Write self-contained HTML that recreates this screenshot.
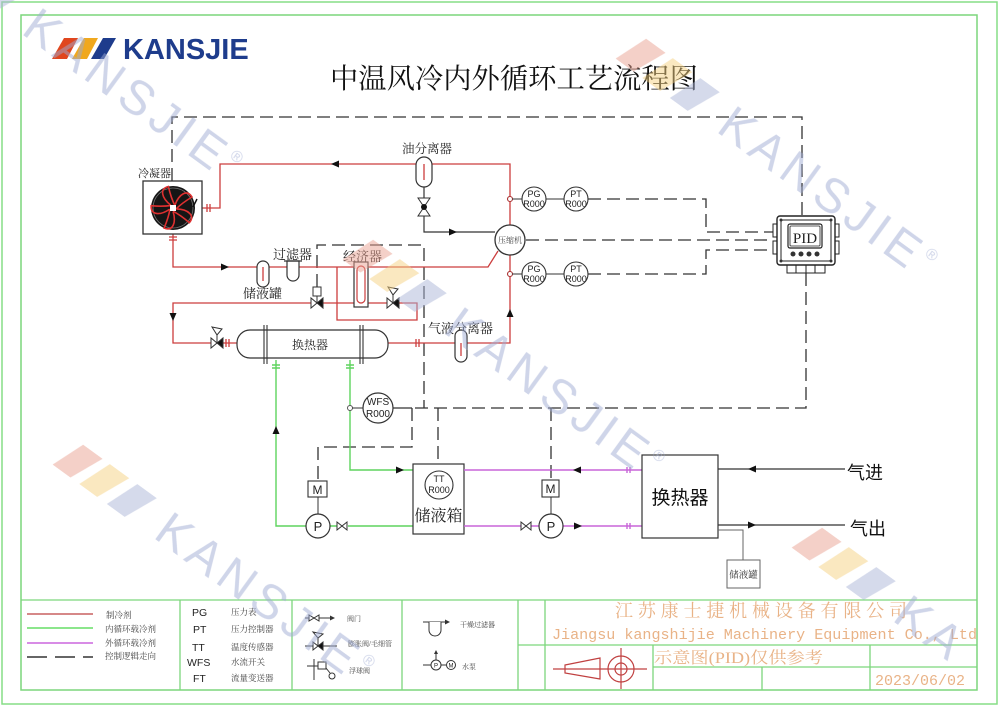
<!DOCTYPE html>
<html><head><meta charset="utf-8">
<style>
html,body{margin:0;padding:0;background:#fff;width:1000px;height:706px;overflow:hidden;}
svg{display:block;}
.sf{font-family:"Liberation Serif","Noto Serif CJK SC",serif;}
.ss{font-family:"Liberation Sans","Noto Sans CJK SC",sans-serif;}
.mn{font-family:"Liberation Mono","Noto Sans CJK SC",monospace;}
</style></head><body>
<svg width="1000" height="706" viewBox="0 0 1000 706" xmlns="http://www.w3.org/2000/svg" overflow="hidden">
<rect width="1000" height="706" fill="#fff"/>

<!-- Frame -->
<rect x="2" y="2" width="995" height="702" fill="none" stroke="#86dd86" stroke-width="1.5"/>
<rect x="21" y="15" width="956" height="675" fill="none" stroke="#7cd67c" stroke-width="1.5"/>
<g stroke="#7cd67c" stroke-width="1.3" fill="none">
 <line x1="21" y1="600" x2="977" y2="600"/>
 <line x1="180" y1="600" x2="180" y2="690"/>
 <line x1="292" y1="600" x2="292" y2="690"/>
 <line x1="402" y1="600" x2="402" y2="690"/>
 <line x1="518" y1="600" x2="518" y2="690"/>
 <line x1="545" y1="600" x2="545" y2="690"/>
 <line x1="518" y1="645" x2="977" y2="645"/>
 <line x1="653" y1="667" x2="977" y2="667"/>
 <line x1="653" y1="645" x2="653" y2="690"/>
 <line x1="762" y1="667" x2="762" y2="690"/>
 <line x1="870" y1="645" x2="870" y2="690"/>
</g>

<!-- Logo -->
<polygon points="64,38 78,38 67,59 52,59" fill="#e0461e"/>
<polygon points="84,38 98,38 87,59 72,59" fill="#f0a81e"/>
<polygon points="103,38 116,38 104,59 91,59" fill="#1e3c8c"/>
<text x="123" y="59" class="ss" font-size="29" font-weight="bold" fill="#1e3c8c">KANSJIE</text>

<!-- Title -->
<text x="330" y="88" class="sf" font-size="28" fill="#111" textLength="368" lengthAdjust="spacingAndGlyphs">中温风冷内外循环工艺流程图</text>

<!-- Dashed control lines -->
<g fill="none" stroke="#333" stroke-width="1.3" stroke-dasharray="13 6">
 <path d="M172 181V117H802V216"/>
 <path d="M588 199H706V232H773"/>
 <path d="M526 240H773"/>
 <path d="M588 274H706V250H773"/>
 <path d="M806 273V408H412"/>
 <path d="M317 287V245H424V408"/>
 <path d="M412 408V447H318V481"/>
 <path d="M438 408V471"/>
 <path d="M551 408V480"/>
</g>
<path d="M393 408H412" stroke="#333" stroke-width="1.2"/>

<!-- Red refrigerant lines -->
<g fill="none" stroke="#cc3d3d" stroke-width="1.3">
 <path d="M202 208H220V164H510V343H388"/>
 <path d="M173 234V267H488L498 251"/>
 <path d="M337 267V320H417V303H368"/>
 <path d="M354 303H173V343H237"/>
 <path d="M207 204v8M210 204v8M226 339v8M229 339v8M416 339v8M419 339v8M169 237h8M169 240h8"/>
</g>

<!-- Oil separator line -->
<path d="M424 187V232H495" fill="none" stroke="#333" stroke-width="1.2"/>
<polygon points="418,198 430,198 424,207" fill="#fff" stroke="#333"/>
<polygon points="418,216 430,216 424,207" fill="#fff" stroke="#333"/>
<circle cx="424" cy="207" r="3" fill="#111"/>

<!-- Condenser -->
<text x="138" y="177" class="sf" font-size="11" fill="#222">冷凝器</text>
<rect x="143" y="181" width="59" height="53" fill="#fff" stroke="#333" stroke-width="1.3"/>
<circle cx="173" cy="208" r="22" fill="#151515"/>
<circle cx="173" cy="208" r="20" fill="none" stroke="#777" stroke-width="0.8"/>
<g transform="translate(173,208)" stroke="#dd3030" stroke-width="1.6" fill="none">
 <path d="M2,-3 C6,-14 14,-19 19,-11 C14,-8 8,-4 3,1"/>
 <path transform="rotate(72)" d="M2,-3 C6,-14 14,-19 19,-11 C14,-8 8,-4 3,1"/>
 <path transform="rotate(144)" d="M2,-3 C6,-14 14,-19 19,-11 C14,-8 8,-4 3,1"/>
 <path transform="rotate(216)" d="M2,-3 C6,-14 14,-19 19,-11 C14,-8 8,-4 3,1"/>
 <path transform="rotate(288)" d="M2,-3 C6,-14 14,-19 19,-11 C14,-8 8,-4 3,1"/>
</g>
<rect x="170" y="205" width="6" height="6" fill="#fff"/>
<line x1="197" y1="199" x2="193" y2="207" stroke="#111" stroke-width="1.5"/>

<!-- Oil separator -->
<text x="402" y="153" class="sf" font-size="12.5" fill="#222">油分离器</text>
<rect x="416" y="157" width="16" height="30" rx="8" fill="#fff" stroke="#333" stroke-width="1.2"/>
<path d="M424 164V180" stroke="#cc3d3d" stroke-width="1.3"/>

<!-- Receiver / filter / economizer -->
<text x="273" y="259" class="sf" font-size="13" fill="#222">过滤器</text>
<text x="343" y="261" class="sf" font-size="13" fill="#222">经济器</text>
<text x="243" y="298" class="sf" font-size="13" fill="#222">储液罐</text>
<rect x="257" y="261" width="12" height="26" rx="6" fill="#fff" stroke="#333" stroke-width="1.2"/>
<path d="M263 267V281" stroke="#cc3d3d" stroke-width="1.3"/>
<path d="M287 261V275A6 6 0 0 0 299 275V261Z" fill="#fff" stroke="#333" stroke-width="1.2"/>
<path d="M284 261H302" stroke="#333" stroke-width="1.2"/>
<rect x="354" y="262" width="14" height="45" fill="#fff" stroke="#333" stroke-width="1.2"/>
<rect x="357" y="266" width="8" height="37" rx="4" fill="none" stroke="#cc3d3d" stroke-width="1.2"/>

<!-- Solenoid valve -->
<rect x="313" y="287" width="8" height="9" fill="#fff" stroke="#333"/>
<path d="M317 296V303" stroke="#333"/>
<polygon points="311,298 311,308 317,303" fill="#fff" stroke="#333"/>
<polygon points="323,298 323,308 317,303" fill="#111" stroke="#333"/>
<!-- Expansion valve econ -->
<polygon points="387,298 387,308 393,303" fill="#fff" stroke="#333"/>
<polygon points="399,298 399,308 393,303" fill="#111" stroke="#333"/>
<path d="M393 303V295M388 287L398 289L393 295Z" fill="#fff" stroke="#333"/>
<!-- Expansion valve HX -->
<polygon points="211,338 211,348 217,343" fill="#fff" stroke="#333"/>
<polygon points="223,338 223,348 217,343" fill="#111" stroke="#333"/>
<path d="M217 343V335M212 327L222 329L217 335Z" fill="#fff" stroke="#333"/>

<!-- Heat exchanger 1 -->
<rect x="237" y="330" width="151" height="28" rx="13" fill="#fff" stroke="#333" stroke-width="1.2"/>
<g stroke="#333" stroke-width="1.1">
 <line x1="264" y1="325" x2="264" y2="364"/><line x1="267" y1="325" x2="267" y2="364"/>
 <line x1="360" y1="325" x2="360" y2="364"/><line x1="363" y1="325" x2="363" y2="364"/>
</g>
<text x="310" y="349" class="sf" font-size="12" fill="#222" text-anchor="middle">换热器</text>

<!-- Gas-liquid separator -->
<text x="428" y="333" class="sf" font-size="13" fill="#222">气液分离器</text>
<rect x="455" y="330" width="12" height="32" rx="6" fill="#fff" stroke="#333" stroke-width="1.2"/>
<path d="M461 343V356" stroke="#cc3d3d" stroke-width="1.3"/>

<!-- Compressor -->
<circle cx="510" cy="240" r="15" fill="#fff" stroke="#333" stroke-width="1.3"/>
<text x="510" y="243" class="sf" font-size="8" fill="#444" text-anchor="middle">压缩机</text>

<!-- PG / PT -->
<g stroke="#333" stroke-width="1.1" fill="#fff">
 <circle cx="510" cy="199" r="2.5" stroke="#a33"/>
 <circle cx="510" cy="274" r="2.5" stroke="#a33"/>
 <path d="M512 199H522M546 199H564M512 274H522M546 274H564" fill="none"/>
 <circle cx="534" cy="199" r="12"/><circle cx="576" cy="199" r="12"/>
 <circle cx="534" cy="274" r="12"/><circle cx="576" cy="274" r="12"/>
</g>
<g class="ss" font-size="9" fill="#222" text-anchor="middle">
 <text x="534" y="197">PG</text><text x="534" y="207">R000</text>
 <text x="576" y="197">PT</text><text x="576" y="207">R000</text>
 <text x="534" y="272">PG</text><text x="534" y="282">R000</text>
 <text x="576" y="272">PT</text><text x="576" y="282">R000</text>
</g>

<!-- PID controller -->
<g stroke="#222" fill="#fff">
 <rect x="773" y="224" width="5" height="13" stroke-width="1"/>
 <rect x="773" y="241" width="5" height="13" stroke-width="1"/>
 <rect x="834" y="224" width="5" height="13" stroke-width="1"/>
 <rect x="834" y="241" width="5" height="13" stroke-width="1"/>
 <rect x="787" y="265" width="38" height="8" stroke-width="1"/>
 <path d="M796 265V273M806 265V273M815 265V273" fill="none"/>
 <rect x="777" y="216" width="58" height="49" rx="3" stroke-width="1.4"/>
 <rect x="781" y="220" width="50" height="41" rx="2" stroke-width="1"/>
 <rect x="788" y="224" width="34" height="24" rx="2" stroke-width="1.2"/>
 <rect x="790" y="226" width="30" height="20" rx="1" stroke-width="0.8"/>
</g>
<text x="805" y="243" class="sf" font-size="15" fill="#222" text-anchor="middle">PID</text>
<g fill="#333">
 <circle cx="793" cy="254" r="2.5"/><circle cx="801" cy="254" r="2.5"/><circle cx="809" cy="254" r="2.5"/><circle cx="817" cy="254" r="2.5"/>
 <circle cx="781" cy="220" r="1.5"/><circle cx="831" cy="220" r="1.5"/><circle cx="781" cy="261" r="1.5"/><circle cx="831" cy="261" r="1.5"/>
</g>

<!-- Green loop -->
<g stroke="#5ed45e" stroke-width="1.4" fill="none">
 <path d="M276 360V526H306"/>
 <path d="M350 360V470H413"/>
 <path d="M330 526H337M348 526H413"/>
 <path d="M272 365h8M272 368h8M346 365h8M346 368h8"/>
</g>
<polygon points="337,522 337,530 342,526" fill="#fff" stroke="#333"/>
<polygon points="347,522 347,530 342,526" fill="#fff" stroke="#333"/>

<!-- WFS -->
<circle cx="350" cy="408" r="2.5" fill="#fff" stroke="#555"/>
<path d="M352 408H363" stroke="#333"/>
<circle cx="378" cy="408" r="15" fill="#fff" stroke="#333" stroke-width="1.2"/>
<text x="378" y="405" class="ss" font-size="10" fill="#222" text-anchor="middle">WFS</text>
<text x="378" y="417" class="ss" font-size="10" fill="#222" text-anchor="middle">R000</text>

<!-- Pump 1 -->
<rect x="308" y="481" width="19" height="16" fill="#fff" stroke="#333" stroke-width="1.1"/>
<text x="317.5" y="494" class="ss" font-size="12" fill="#222" text-anchor="middle">M</text>
<path d="M318 497V514" stroke="#333"/>
<circle cx="318" cy="526" r="12" fill="#fff" stroke="#333" stroke-width="1.2"/>
<text x="318" y="531" class="ss" font-size="13" fill="#222" text-anchor="middle">P</text>

<!-- Tank -->
<rect x="413" y="464" width="51" height="70" fill="#fff" stroke="#333" stroke-width="1.2"/>
<circle cx="439" cy="485" r="14" fill="#fff" stroke="#333" stroke-width="1.1"/>
<text x="439" y="482" class="ss" font-size="9" fill="#222" text-anchor="middle">TT</text>
<text x="439" y="493" class="ss" font-size="9" fill="#222" text-anchor="middle">R000</text>
<text x="438.5" y="521" class="sf" font-size="16" fill="#222" text-anchor="middle">储液箱</text>

<!-- Magenta loop -->
<g stroke="#c865d8" stroke-width="1.4" fill="none">
 <path d="M464 470H642"/>
 <path d="M464 526H521M531 526H539M563 526H642"/>
 <path d="M627 467v6M630 467v6M627 523v6M630 523v6"/>
</g>
<polygon points="521,522 521,530 526,526" fill="#fff" stroke="#333"/>
<polygon points="531,522 531,530 526,526" fill="#fff" stroke="#333"/>

<!-- Pump 2 -->
<rect x="542" y="480" width="17" height="17" fill="#fff" stroke="#333" stroke-width="1.1"/>
<text x="550.5" y="493" class="ss" font-size="12" fill="#222" text-anchor="middle">M</text>
<path d="M551 497V514" stroke="#333"/>
<circle cx="551" cy="526" r="12" fill="#fff" stroke="#333" stroke-width="1.2"/>
<text x="551" y="531" class="ss" font-size="13" fill="#222" text-anchor="middle">P</text>

<!-- Heat exchanger 2 -->
<rect x="642" y="455" width="76" height="83" fill="#fff" stroke="#333" stroke-width="1.2"/>
<text x="680" y="504" class="ss" font-size="19" fill="#111" text-anchor="middle">换热器</text>
<g stroke="#333" stroke-width="1.2" fill="none">
 <path d="M718 469H845"/>
 <path d="M718 525H845"/>
</g>
<path d="M718 530H743V560" stroke="#666" stroke-width="1" fill="none"/>
<rect x="727" y="560" width="33" height="28" fill="#fff" stroke="#666" stroke-width="1"/>
<text x="743.5" y="578" class="sf" font-size="9.5" fill="#333" text-anchor="middle">储液罐</text>
<text x="847" y="479" class="ss" font-size="18" fill="#111">气进</text>
<text x="850" y="535" class="ss" font-size="18" fill="#111">气出</text>

<!-- Arrowheads -->
<g fill="#111">
 <polygon points="339,160.5 331,164 339,167.5"/>
 <polygon points="221,263.5 229,267 221,270.5"/>
 <polygon points="169.5,313 173,321 176.5,313"/>
 <polygon points="506.5,317 510,309 513.5,317"/>
 <polygon points="449,228.5 457,232 449,235.5"/>
 <polygon points="272.5,434 276,426 279.5,434"/>
 <polygon points="396,466.5 404,470 396,473.5"/>
 <polygon points="581,466.5 573,470 581,473.5"/>
 <polygon points="574,522.5 582,526 574,529.5"/>
 <polygon points="756,465.5 748,469 756,472.5"/>
 <polygon points="748,521.5 756,525 748,528.5"/>
</g>

<!-- Legend col 1 -->
<line x1="27" y1="614" x2="93" y2="614" stroke="#c86060" stroke-width="1.6"/>
<line x1="27" y1="628" x2="93" y2="628" stroke="#66dd66" stroke-width="1.6"/>
<line x1="27" y1="643" x2="93" y2="643" stroke="#cc66dd" stroke-width="1.6"/>
<line x1="27" y1="657" x2="93" y2="657" stroke="#333" stroke-width="1.6" stroke-dasharray="20 8"/>
<g class="sf" font-size="8.5" fill="#444">
 <text x="106" y="618">制冷剂</text>
 <text x="105" y="632">内循环载冷剂</text>
 <text x="105" y="646">外循环载冷剂</text>
 <text x="105" y="659">控制逻辑走向</text>
</g>
<!-- Legend col 2 -->
<g class="ss" font-size="10.5" fill="#222">
 <text x="192" y="616">PG</text>
 <text x="193" y="633">PT</text>
 <text x="192" y="651">TT</text>
 <text x="187" y="666">WFS</text>
 <text x="193" y="682">FT</text>
</g>
<g class="sf" font-size="8.5" fill="#444">
 <text x="231" y="615">压力表</text>
 <text x="231" y="632">压力控制器</text>
 <text x="231" y="650">温度传感器</text>
 <text x="231" y="665">水流开关</text>
 <text x="231" y="681">流量变送器</text>
</g>
<!-- Legend col 3 -->
<g stroke="#333" stroke-width="1" fill="none">
 <path d="M305 618H332"/>
 <path d="M309 615V621L314 618ZM319 615V621L314 618Z" fill="#fff"/>
 <path d="M305 646H337"/>
 <path d="M313 642V650L318 646Z" fill="#fff"/>
 <path d="M323 642V650L318 646Z" fill="#111"/>
 <path d="M318 646V638M313 632L323 634L318 638Z" fill="#fff"/>
 <path d="M307 666H318M314 659V680"/>
 <rect x="318" y="662" width="8" height="7" fill="#fff"/>
 <path d="M326 668L330 673"/>
 <circle cx="332" cy="676" r="3" fill="#fff"/>
</g>
<polygon points="330,615.5 335,618 330,620.5" fill="#333"/>
<g class="sf" font-size="7" fill="#444">
 <text x="347" y="621">阀门</text>
 <text x="348" y="646">膨胀阀/毛细管</text>
 <text x="349" y="673">浮球阀</text>
</g>
<!-- Legend col 4 -->
<g stroke="#333" stroke-width="1" fill="none">
 <path d="M423 622H447"/>
 <path d="M429 622V630A6 6 0 0 0 441 630V622" fill="#fff"/>
 <path d="M423 665H431M441 665H446M436 660V652"/>
 <circle cx="436" cy="665" r="5" fill="#fff"/>
 <circle cx="451" cy="665" r="4.5" fill="#fff"/>
</g>
<polygon points="445,619.5 450,622 445,624.5" fill="#333"/>
<polygon points="434,654 436,650 438,654" fill="#333"/>
<text x="436" y="667.5" class="ss" font-size="6" fill="#222" text-anchor="middle">P</text>
<text x="451" y="667.5" class="ss" font-size="6" fill="#222" text-anchor="middle">M</text>
<g class="sf" font-size="7" fill="#444">
 <text x="460" y="627">干燥过滤器</text>
 <text x="462" y="669">水泵</text>
</g>

<!-- Title block -->
<text x="615" y="617" class="sf" font-size="18" fill="#e9b387" textLength="292" lengthAdjust="spacing">江苏康士捷机械设备有限公司</text>
<text x="552" y="639" class="mn" font-size="14.7" fill="#e9b387" textLength="425" lengthAdjust="spacingAndGlyphs">Jiangsu kangshijie Machinery Equipment Co., Ltd</text>
<text x="654" y="663" class="sf" font-size="16" fill="#e9b387" textLength="169" lengthAdjust="spacingAndGlyphs">示意图(PID)仅供参考</text>
<text x="875" y="685" class="mn" font-size="15" fill="#e9b387" textLength="90" lengthAdjust="spacingAndGlyphs">2023/06/02</text>
<g stroke="#c04040" stroke-width="1.2" fill="none">
 <path d="M553 669H647"/>
 <path d="M565 665L600 658V679L565 673Z"/>
 <circle cx="621" cy="669" r="13"/>
 <circle cx="621" cy="669" r="6"/>
 <path d="M621 648V689"/>
</g>

<!-- Watermarks -->
<g opacity="0.5">
 <g transform="translate(-54,-42) rotate(36)">
  <polygon points="-6,-17 18,-17 3,17 -19,17" fill="#e8a090"/>
  <polygon points="27,-17 51,-17 36,17 14,17" fill="#f5d080"/>
  <polygon points="61,-17 85,-17 70,17 48,17" fill="#aab4d6"/>
  <text x="104" y="17" class="ss" font-size="48" letter-spacing="6" fill="#9eaad2">KANSJIE<tspan font-size="16" dy="-22">®</tspan></text>
 </g>
 <g transform="translate(368,257) rotate(36)">
  <polygon points="-6,-17 18,-17 3,17 -19,17" fill="#e8a090"/>
  <polygon points="27,-17 51,-17 36,17 14,17" fill="#f5d080"/>
  <polygon points="61,-17 85,-17 70,17 48,17" fill="#aab4d6"/>
  <text x="104" y="17" class="ss" font-size="48" letter-spacing="6" fill="#9eaad2">KANSJIE<tspan font-size="16" dy="-22">®</tspan></text>
 </g>
 <g transform="translate(641,56) rotate(36)">
  <polygon points="-6,-17 18,-17 3,17 -19,17" fill="#e8a090"/>
  <polygon points="27,-17 51,-17 36,17 14,17" fill="#f5d080"/>
  <polygon points="61,-17 85,-17 70,17 48,17" fill="#aab4d6"/>
  <text x="104" y="17" class="ss" font-size="48" letter-spacing="6" fill="#9eaad2">KANSJIE<tspan font-size="16" dy="-22">®</tspan></text>
 </g>
 <g transform="translate(78,462) rotate(36)">
  <polygon points="-6,-17 18,-17 3,17 -19,17" fill="#e8a090"/>
  <polygon points="27,-17 51,-17 36,17 14,17" fill="#f5d080"/>
  <polygon points="61,-17 85,-17 70,17 48,17" fill="#aab4d6"/>
  <text x="104" y="17" class="ss" font-size="48" letter-spacing="6" fill="#9eaad2">KANSJIE<tspan font-size="16" dy="-22">®</tspan></text>
 </g>
 <g transform="translate(817,545) rotate(36)">
  <polygon points="-6,-17 18,-17 3,17 -19,17" fill="#e8a090"/>
  <polygon points="27,-17 51,-17 36,17 14,17" fill="#f5d080"/>
  <polygon points="61,-17 85,-17 70,17 48,17" fill="#aab4d6"/>
  <text x="104" y="17" class="ss" font-size="48" letter-spacing="6" fill="#9eaad2">KA</text>
 </g>
</g>
</svg>
</body></html>
